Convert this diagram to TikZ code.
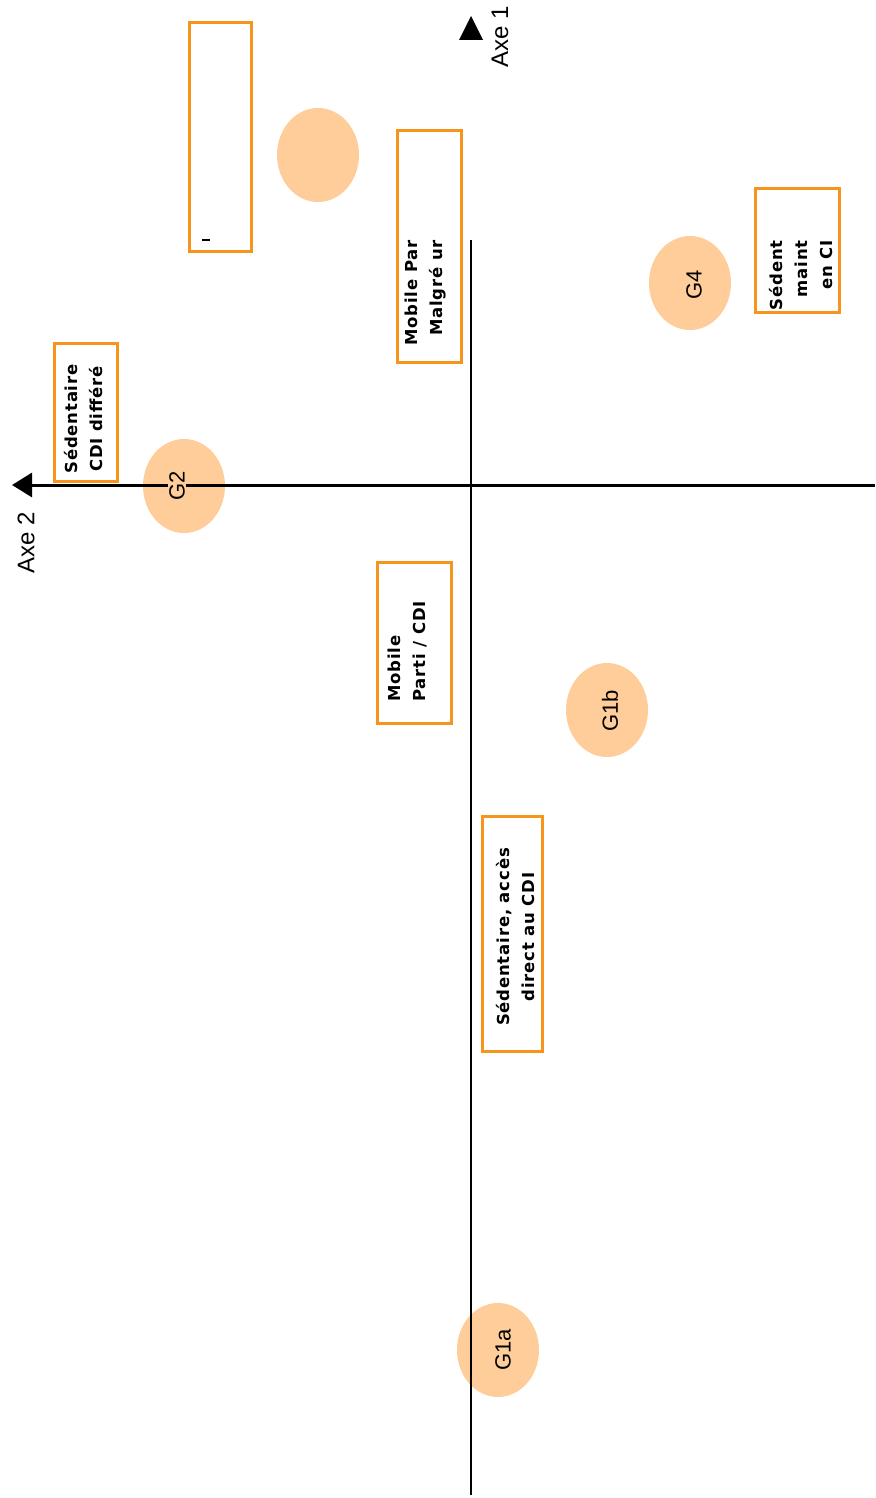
\documentclass[tikz,border=0pt]{standalone}
\usepackage{fontspec}
\setmainfont{Liberation Sans}
\newfontfamily\boxfont[LetterSpace=5]{DejaVu Sans}
\usetikzlibrary{shapes.geometric,arrows.meta}
\definecolor{boxorange}{RGB}{247,148,30}
\definecolor{peach}{RGB}{254,205,153}

\begin{document}
\begin{tikzpicture}[x=1pt,y=-1pt,
  grp/.style={ellipse,fill=peach,minimum width=82pt,minimum height=94pt,inner sep=0pt},
  grplabel/.style={rotate=90,fill=peach,inner sep=1pt,font=\fontsize{22}{22}\selectfont},
  cadre/.style={draw=boxorange,line width=3pt},
  boxtext/.style={rotate=90,inner sep=0pt,font=\fontsize{16.5}{25}\boxfont\bfseries},
  axe/.style={black,line width=3pt},
  axelabel/.style={rotate=90,inner sep=0pt,font=\fontsize{24}{24}\selectfont}]

\useasboundingbox (0,0) rectangle (875,1498);

% groupes
\node[grp] (e0) at (318,155) {};
\node[grp] (g4) at (690,283) {};
\node[grp] (g2) at (184,486) {};
\node[grp] (g1b) at (607,710) {};
\node[grp] (g1a) at (498,1350) {};

% cadres
\draw[cadre] (189,23) rectangle (251,251);
\draw[line width=1.2pt] (202,240) -- (210,240);
\draw[cadre] (397,131) rectangle (461,362);
\draw[cadre] (755,189) rectangle (839,312);
\draw[cadre] (54,343) rectangle (117,481);
\draw[cadre] (377,562) rectangle (451,723);
\draw[cadre] (482,816) rectangle (542,1051);

% axes
\coordinate (xend) at (875,485);
\coordinate (xtip) at (12,485);
\coordinate (ybas) at (471,1495);
\coordinate (ycut) at (471,240);
\draw[axe,-{Triangle[length=20pt,width=24pt]}] (xend) -- (xtip);
\draw[axe,line width=2.8pt] (ybas) -- (ycut);
\fill (459,40) -- (483,40) -- (471,16) -- cycle;

\node[axelabel] (axe1) at (500,37) {Axe 1};
\node[axelabel] (axe2) at (26,543) {Axe 2};

% textes
\node[boxtext,align=right,anchor=east] (parti) at (426,240) {Mobile Par\\Malgré ur};
\node[boxtext,align=right,anchor=east] (maintien) at (801,240) {Sédent\\maint\\en CI};
\node[boxtext,align=center] (differe) at (84,419) {Sédentaire\\CDI différé};
\node[boxtext,align=left,anchor=west] (mobile) at (407,702) {Mobile\\Parti / CDI};
\node[boxtext,align=center] (direct) at (516,937) {Sédentaire, accès\\direct au CDI};

\node[grplabel] (t4) at (694,285) {G4};
\node[grplabel] (t2) at (177,486) {G2};
\node[grplabel] (t1b) at (610,711) {G1b};
\node[grplabel] (t1a) at (503,1350) {G1a};

\end{tikzpicture}
\end{document}
